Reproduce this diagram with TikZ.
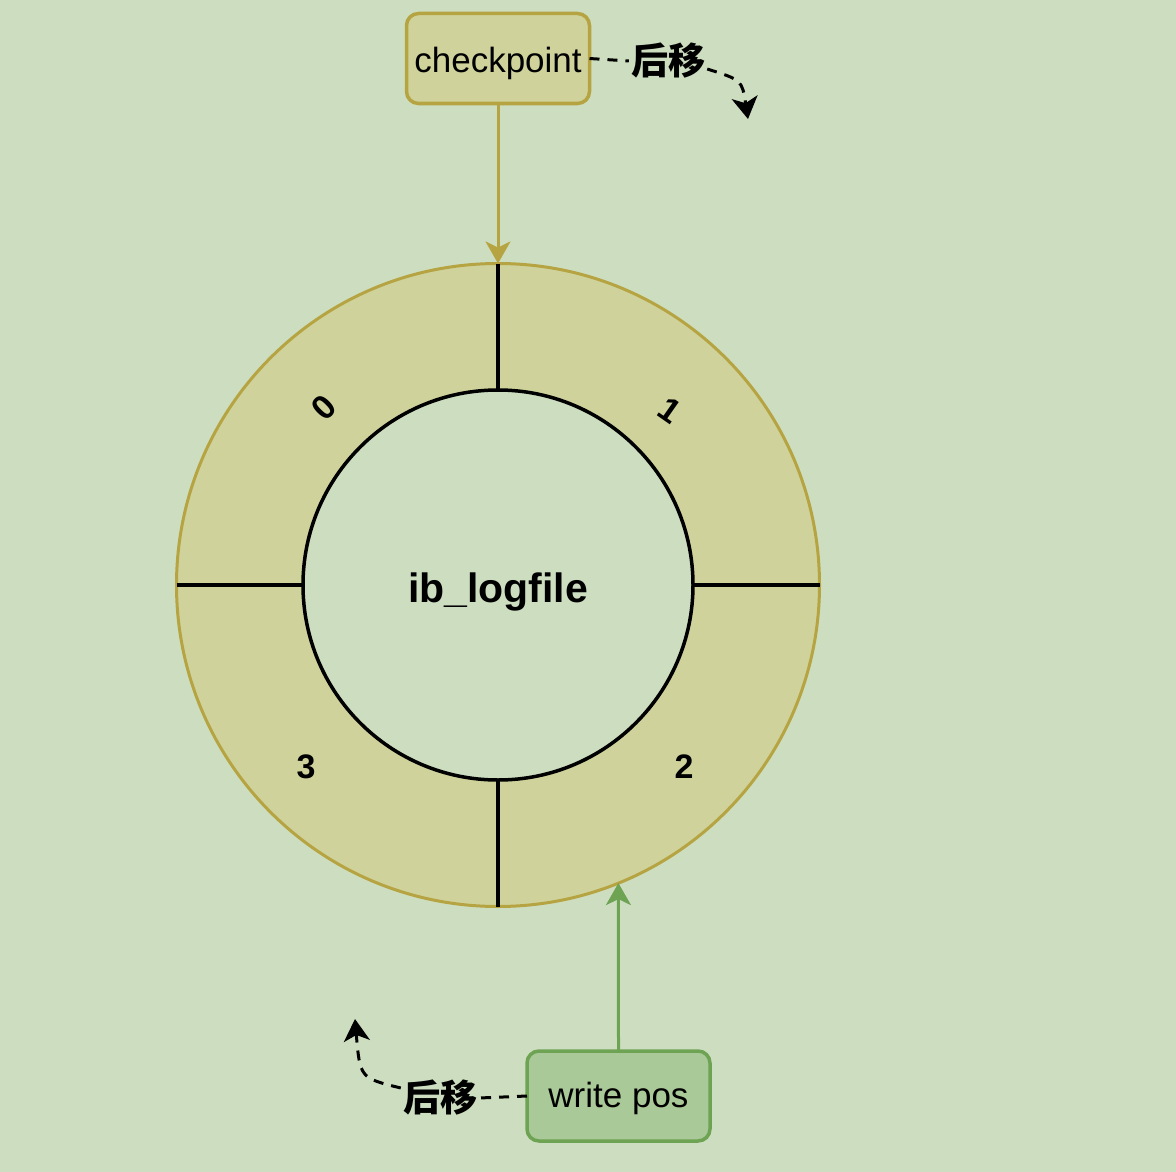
\documentclass[tikz,border=0pt]{standalone}
\usepackage{fontspec}
\setmainfont{Liberation Sans}
\newfontfamily\cjk{Noto Sans CJK SC}
\usetikzlibrary{arrows.meta}
\definecolor{bg}{RGB}{205,222,192}
\definecolor{ring}{RGB}{207,211,155}
\definecolor{olive}{RGB}{182,164,66}
\definecolor{gfill}{RGB}{170,201,152}
\definecolor{gline}{RGB}{110,163,84}
\tikzset{
  labelbox/.style={rounded corners=12pt, line width=3.5pt, inner sep=0pt, outer sep=0pt,
    minimum width=183pt, minimum height=90pt, font=\fontsize{35}{40}\selectfont},
  numlbl/.style={font=\fontsize{34}{38}\selectfont\bfseries, inner sep=0pt},
  shiftlbl/.style={font=\fontsize{37}{42}\selectfont\cjk\bfseries, inner sep=2pt},
  dashline/.style={line width=3pt, dash pattern=on 10pt off 8pt, black},
  divider/.style={line width=3.5pt, black},
}
\begin{document}
\begin{tikzpicture}[x=1pt,y=-1pt]
\fill[bg] (0,0) rectangle (1176,1172);
\useasboundingbox (0,0) rectangle (1176,1172);

\node (outer) [circle, draw=olive, fill=ring, line width=3pt, minimum size=643pt, inner sep=0pt, outer sep=0pt] at (498,585) {};
\node (inner) [circle, draw=black, fill=bg, line width=3.5pt, minimum size=390pt, inner sep=0pt, outer sep=0pt,
  text height=35pt, text depth=0pt,
  font=\fontsize{41}{46}\selectfont\bfseries] at (498,585) {ib\_logfile};

\draw[divider] (outer.north) -- (inner.north);
\draw[divider] (outer.south) -- (inner.south);
\draw[divider] (outer.west) -- (inner.west);
\draw[divider] (outer.east) -- (inner.east);

\node[numlbl, rotate=45] (n0) at (324,408) {0};
\node[numlbl, rotate=-35] (n1) at (670,410) {1};
\node[numlbl] (n3) at (306,767) {3};
\node[numlbl] (n2) at (684,767) {2};

\node (cp) [labelbox, draw=olive, fill=ring, text height=28pt, text depth=0pt] at (498,58.5) {checkpoint};
\node (wp) [labelbox, draw=gline, fill=gfill, text height=23.5pt, text depth=0pt] at (618.5,1096) {write pos};

\draw[olive, line width=3pt, -{Stealth[length=22pt, width=25pt, inset=6pt]}] (cp.south) -- (outer.north);
\draw[gline, line width=3pt, -{Stealth[length=22pt, width=25pt, inset=6pt]}] (wp.north) -- (outer.-68.5);

\node (s1) [shiftlbl] at (668,61) {后移};
\node (s2) [shiftlbl] at (440,1098) {后移};
\coordinate (t1) at (748,119);
\coordinate (t2) at (355,1019);

\draw[dashline] (cp.east) -- (s1.west);
\draw[dashline, -{Stealth[length=22pt, width=26pt, inset=6pt]}] ([yshift=-8pt]s1.east) .. controls (742,80) .. (t1);
\draw[dashline] (wp.west) -- (s2.east);
\draw[dashline, -{Stealth[length=22pt, width=26pt, inset=6pt]}] ([yshift=10pt]s2.west) .. controls (360,1078) .. (t2);
\end{tikzpicture}
\end{document}
